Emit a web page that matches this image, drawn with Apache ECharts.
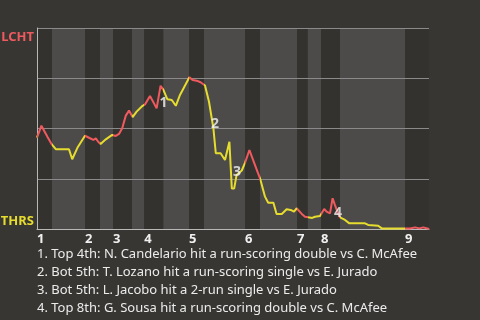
<!DOCTYPE html>
<html>
<head>
<meta charset="utf-8">
<script src="https://cdn.jsdelivr.net/npm/echarts@6/dist/echarts.min.js"></script>
<style>
html,body{margin:0;padding:0;background:#383633;}
#chart{width:480px;height:320px;}
</style>
</head>
<body>
<div id="chart"></div>
<script>
// Play position (x) and LCHT win probability % (y)
const playX = [0,1.1,1.5,2.6,3.7,4.7,8.0,8.8,9.25,10.1,12.0,13.0,14.1,14.7,15.3,15.9,17.2,18.8,19.7,20.5,21.3,22.2,23.0,23.9,24.9,26.4,27.0,28.25,29.25,29.9,30.9,31.6,32.6,33.7,34.7,35.75,38.1,38.9,39.9,40.9,42.0,43.0,44.1,44.7,45.9,47.0,48.1,48.25,48.7,49.3,49.9,51.2,52.0,53.1,54.5,55.75,57.0,57.8,59.1,59.9,61.2,62.4,63.4,64.25,64.9,66.2,67.0,67.8,68.8,69.5,70.75,71.8,72.4,73.25,73.9,74.5,75.1,75.75,77.0,78.1,82.0,82.8,85.3,86.2,92.0,93.25,94.5,95.6,96.6,98];
const winProb = [45.5,51.4,50.6,45.9,42.1,39.7,39.7,34.7,34.7,40.4,46.4,45.4,44.3,45.1,43.4,42.3,44.6,46.8,46.3,47.3,50.1,56.4,58.9,55.7,58.4,61.3,62.0,66.2,62.5,60.0,71.3,69.2,64.5,64.2,61.3,66.7,75.5,74.1,73.8,73.0,71.4,63.3,50.1,37.7,37.7,34.3,43.4,37.7,20.2,20.2,26.9,29.1,32.9,39.3,31.8,25.2,16.1,13.1,13.1,7.5,7.5,9.8,9.5,8.6,10.3,7.5,6.1,5.8,5.5,6.1,6.5,10.0,8.6,7.8,15.3,11.9,8.6,5.8,4.5,2.8,2.8,2.0,1.6,0.3,0.3,0.3,0.8,0.3,0.8,0];
// Half-inning boundaries (play position); even index = top half start
const halfBounds = [0,3.75,12,15.75,19,23.75,26.8,31.6,38,41.75,52,55.75,65,67.7,71,75.75,92,98];
const inningLabels = ['1','2','3','4','5','6','7','8','9'];
const teamTop = 'LCHT';
const teamBottom = 'THRS';
// Key plays: label, x, y
const keyLabels = ['1','2','3','4'];
const keyX = [31.6,44.5,50.0,75.25];
const keyY = [62.7,52.2,28.4,8.0];
const notes = [
  '1. Top 4th: N. Candelario hit a run-scoring double vs C. McAfee',
  '2. Bot 5th: T. Lozano hit a run-scoring single vs E. Jurado',
  '3. Bot 5th: L. Jacobo hit a 2-run single vs E. Jurado',
  '4. Top 8th: G. Sousa hit a run-scoring double vs C. McAfee'
];

const RED = '#f05a5e', YELLOW = '#e6dc2e';
const FONT = 'Noto Sans';

const lineData = playX.map((x, i) => [x, winProb[i]]);
const topStarts = [];
const areas = [];
const pieces = [];
for (let i = 0; i < halfBounds.length - 1; i++) {
  const isTop = i % 2 === 0;
  if (isTop) topStarts.push(halfBounds[i]);
  const piece = {gte: halfBounds[i], color: isTop ? RED : YELLOW};
  if (i === halfBounds.length - 2) piece.lte = halfBounds[i + 1]; else piece.lt = halfBounds[i + 1];
  pieces.push(piece);
  areas.push([
    {xAxis: halfBounds[i], itemStyle: {color: isTop ? '#34322f' : '#4c4b49'}},
    {xAxis: halfBounds[i + 1]}
  ]);
}

const chart = echarts.init(document.getElementById('chart'), null, {renderer: 'canvas'});
chart.setOption({
  backgroundColor: '#383633',
  animation: false,
  grid: {left: 37, right: 51, top: 28, bottom: 91},
  xAxis: {
    type: 'value', min: halfBounds[0], max: halfBounds[halfBounds.length - 1],
    z: 4,
    axisLine: {show: true, lineStyle: {color: '#b8b8b8', width: 1}},
    axisTick: {show: false},
    splitLine: {show: false},
    axisLabel: {
      customValues: topStarts,
      formatter: v => inningLabels[topStarts.indexOf(v)] || '',
      color: '#f0f0f0', fontWeight: 'bold', fontSize: 13, fontFamily: FONT,
      align: 'left', margin: 4
    }
  },
  yAxis: {
    type: 'value', min: 0, max: 100, interval: 25,
    z: 4,
    axisLine: {show: true, lineStyle: {color: '#b8b8b8', width: 1}},
    axisTick: {show: false},
    axisLabel: {show: false},
    splitLine: {show: true, lineStyle: {color: '#8a8a8a', width: 1}}
  },
  visualMap: {
    show: false, type: 'piecewise', dimension: 0, seriesIndex: 1,
    pieces: pieces, outOfRange: {color: YELLOW}
  },
  series: [
    {
      type: 'line', data: [], z: 1, silent: true,
      markArea: {silent: true, data: areas}
    },
    {
      type: 'line', data: lineData, showSymbol: false, symbol: 'none',
      lineStyle: {width: 2}, z: 6
    },
    {
      type: 'scatter', symbolSize: 0, z: 8,
      data: keyX.map((x, i) => [x, keyY[i], keyLabels[i]]),
      label: {
        show: true, position: 'inside', formatter: p => p.data[2],
        color: '#f4f4f4', fontWeight: 'bold', fontSize: 14, fontFamily: FONT
      }
    }
  ],
  graphic: [
    {type: 'text', right: 480 - 34, top: 31, style: {text: teamTop, fill: RED, font: 'bold 13px "' + FONT + '"'}},
    {type: 'text', right: 480 - 34, top: 215, style: {text: teamBottom, fill: YELLOW, font: 'bold 13px "' + FONT + '"'}}
  ].concat(notes.map((t, i) => ({
    type: 'text', left: 37, top: 248 + i * 18,
    style: {text: t, fill: '#ececec', font: '13px "' + FONT + '"'}
  })))
});
</script>
</body>
</html>
